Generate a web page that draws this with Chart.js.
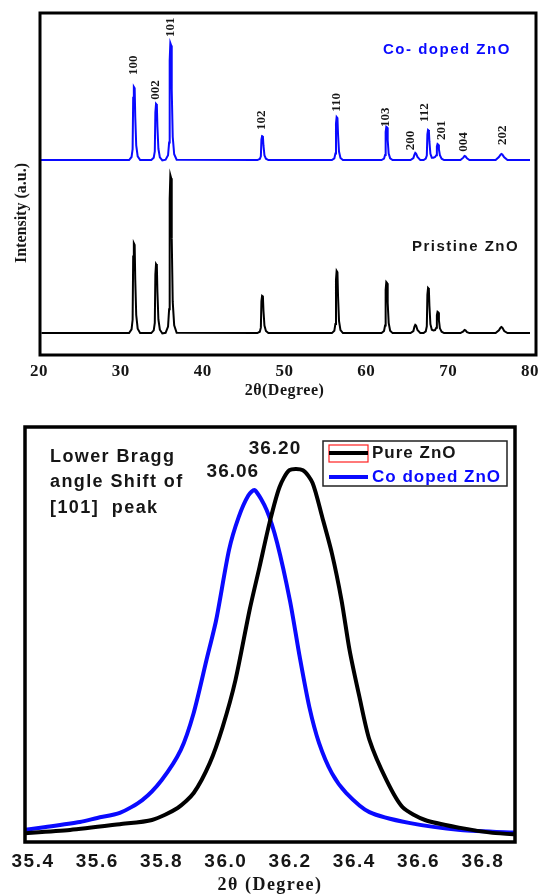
<!DOCTYPE html>
<html>
<head>
<meta charset="utf-8">
<script src="https://cdn.jsdelivr.net/npm/chart.js@4.4.0/dist/chart.umd.min.js"></script>
<style>
    html, body { margin: 0; padding: 0; background: #fff; }
    #wrap { position: relative; width: 538px; height: 894px; }
    #topBox { position: absolute; left: 0; top: 0; width: 538px; height: 400px; }
    #bottomBox { position: absolute; left: 0; top: 400px; width: 538px; height: 494px; }
</style>
</head>
<body>
<div id="wrap">
    <div id="topBox"><canvas id="xrdChart"></canvas></div>
    <div id="bottomBox"><canvas id="peakChart"></canvas></div>
</div>
<script>
// ---- top panel: full XRD patterns (intensity in arbitrary units, 0-100) ----
const xrdTicks = [20, 30, 40, 50, 60, 70, 80];

const pristineX = [20.3,
    31.01, 31.31, 31.44, 31.51, 31.59, 31.69, 31.76, 31.88, 32.06, 32.36,
    33.72, 34.02, 34.15, 34.22, 34.30, 34.40, 34.47, 34.59, 34.77, 35.07,
    35.47, 35.77, 35.90, 35.97, 36.05, 36.15, 36.22, 36.34, 36.52, 36.82,
    46.68, 46.98, 47.11, 47.18, 47.26, 47.36, 47.43, 47.55, 47.73, 48.03,
    55.79, 56.09, 56.22, 56.29, 56.37, 56.47, 56.54, 56.66, 56.84, 57.14,
    61.86, 62.16, 62.29, 62.36, 62.44, 62.54, 62.61, 62.73, 62.91, 63.21,
    65.4, 65.75, 65.88, 65.98, 66.08, 66.25, 66.6,
    67.0, 67.26, 67.39, 67.46, 67.54, 67.64, 67.71, 67.83, 68.0, 68.2,
    68.4, 68.55, 68.62, 68.70, 68.80, 68.87, 68.99, 69.2, 69.5,
    71.5, 71.85, 72.0, 72.12, 72.3, 72.6,
    75.8, 76.2, 76.4, 76.5, 76.62, 76.85, 77.25, 80];
const pristineY = [6.4,
    6.4, 7.5, 10.3, 28.8, 32.7, 32.2, 22.2, 11.7, 7.7, 6.4,
    6.4, 7.2, 9.4, 23.6, 26.6, 26.2, 18.5, 10.4, 7.4, 6.3,
    6.5, 8.3, 13.4, 45.7, 52.6, 51.7, 34.1, 15.6, 8.7, 6.5,
    6.4, 6.8, 8.0, 15.7, 17.3, 17.1, 12.9, 8.6, 7.0, 6.4,
    6.4, 7.1, 9.1, 21.9, 24.6, 24.2, 17.3, 10.0, 7.3, 6.4,
    6.4, 7.0, 8.6, 19.1, 21.3, 21.0, 15.3, 9.4, 7.1, 6.4,
    6.4, 7.0, 8.3, 8.8, 8.6, 7.3, 6.4,
    6.4, 6.9, 8.4, 17.6, 19.6, 19.3, 14.3, 9.0, 7.4, 7.2,
    7.3, 8.0, 11.7, 12.6, 12.4, 10.1, 7.8, 6.8, 6.4,
    6.4, 6.9, 7.3, 7.2, 6.7, 6.4,
    6.4, 7.2, 8.0, 8.2, 8.0, 7.0, 6.4, 6.4];

const codopedX = [20.0,
    31.01, 31.31, 31.44, 31.51, 31.59, 31.69, 31.76, 31.88, 32.06, 32.36,
    33.72, 34.02, 34.15, 34.22, 34.30, 34.40, 34.47, 34.59, 34.77, 35.07,
    35.47, 35.77, 35.90, 35.97, 36.05, 36.15, 36.22, 36.34, 36.52, 36.82,
    46.68, 46.98, 47.11, 47.18, 47.26, 47.36, 47.43, 47.55, 47.73, 48.03,
    55.79, 56.09, 56.22, 56.29, 56.37, 56.47, 56.54, 56.66, 56.84, 57.14,
    61.86, 62.16, 62.29, 62.36, 62.44, 62.54, 62.61, 62.73, 62.91, 63.21,
    65.4, 65.75, 65.88, 65.98, 66.08, 66.25, 66.6,
    67.0, 67.26, 67.39, 67.46, 67.54, 67.64, 67.71, 67.83, 68.0, 68.2,
    68.4, 68.55, 68.62, 68.70, 68.80, 68.87, 68.99, 69.2, 69.5,
    71.5, 71.85, 72.0, 72.12, 72.3, 72.6,
    75.8, 76.2, 76.4, 76.5, 76.62, 76.85, 77.25, 80];
const codopedY = [57,
    57, 57.9, 60.2, 75.2, 78.4, 78.0, 69.8, 61.3, 58.1, 57,
    57, 57.7, 59.5, 70.9, 73.4, 73.1, 66.8, 60.3, 57.8, 56.9,
    57.1, 58.4, 62.1, 86.1, 91.2, 90.5, 77.5, 63.8, 58.7, 57.1,
    57, 57.3, 58.1, 63.0, 64.0, 63.9, 61.2, 58.4, 57.4, 57,
    57, 57.5, 58.9, 67.7, 69.6, 69.3, 64.6, 59.5, 57.6, 57,
    57, 57.4, 58.5, 65.2, 66.7, 66.5, 62.8, 58.9, 57.5, 57,
    57, 57.6, 58.6, 59.1, 58.9, 57.9, 57,
    57, 57.4, 58.3, 64.5, 65.8, 65.6, 62.3, 58.8, 57.7, 57.7,
    57.9, 58.4, 61.0, 61.7, 61.5, 60.1, 58.4, 57.4, 57,
    57, 57.7, 58.2, 58.1, 57.5, 57,
    57, 57.9, 58.6, 58.8, 58.6, 57.8, 57, 57];

// Miller indices written above the Co-doped peaks (x = 2θ, y = bottom of text)
const hklNames = ['100', '002', '101', '102', '110', '103', '200', '112', '201', '004', '202'];
const hklX = [31.6, 34.3, 36.05, 47.25, 56.35, 62.35, 65.4, 67.15, 69.2, 71.85, 76.7];
const hklY = [81.9, 74.6, 93.0, 65.8, 71.1, 66.7, 59.9, 68.1, 62.9, 59.4, 61.4];

// ---- bottom panel: zoom on the (101) reflection ----
const peakTicks = [35.4, 35.6, 35.8, 36.0, 36.2, 36.4, 36.6, 36.8];

const pureX = [35.35, 35.515, 35.67, 35.77, 35.85, 35.90, 35.95, 35.99, 36.03, 36.074,
    36.105, 36.136, 36.167, 36.198, 36.24, 36.27, 36.30, 36.33, 36.36, 36.385,
    36.416, 36.447, 36.5, 36.55, 36.62, 36.73, 36.83, 36.92];
const pureY = [2.0, 2.9, 4.3, 5.3, 8.2, 11.8, 19, 27.7, 39, 55.9,
    66.3, 76.9, 85.5, 89.6, 89.6, 86.5, 78.3, 69.6, 58.3, 46.3,
    34.9, 24.6, 14.9, 8.4, 5.3, 3.4, 2.2, 1.8];

const coX = [35.35, 35.44, 35.546, 35.6, 35.67, 35.74, 35.80, 35.86, 35.90, 35.94, 35.97,
    36.01, 36.04, 36.07, 36.09, 36.127, 36.16, 36.2, 36.23, 36.26, 36.29, 36.33,
    36.375, 36.447, 36.57, 36.73, 36.92];
const coY = [2.7, 3.6, 4.8, 5.8, 7, 10.1, 14.9, 22.2, 31.1, 43.9, 53.5,
    70.4, 78.3, 83.5, 84.8, 80, 72, 58, 44.6, 32.5, 23.9, 16.6,
    11.8, 7.2, 4.6, 2.9, 2.2];

const peakLabels = ['36.20', '36.06'];
const peakLabelX = [36.153, 36.022];
const peakLabelY = [94.7, 89.2];

const noteLines = ['Lower Bragg', 'angle Shift of', '[101]  peak'];

const BLUE = '#0a0aff';
const INK = '#161616';

function toPoints(xs, ys) {
    return xs.map((x, i) => ({ x: x, y: ys[i] }));
}

// thick rectangle around the plotting area + wider glyph spacing for axis text
const framePlugin = {
    id: 'frame',
    beforeDraw(chart, args, opts) {
        chart.ctx.letterSpacing = opts.spacing || '0px';
    },
    afterDraw(chart, args, opts) {
        const a = chart.chartArea;
        const ctx = chart.ctx;
        ctx.save();
        ctx.strokeStyle = '#000';
        ctx.lineWidth = opts.width || 3;
        ctx.strokeRect(a.left + (opts.dl || 0), a.top, a.right - a.left + (opts.dw || 0), a.bottom - a.top);
        ctx.restore();
        ctx.letterSpacing = '0px';
    }
};

// keep the first/last tick labels from shrinking the plot area
function noLabelMargin(s) {
    s.paddingLeft = 0;
    s.paddingRight = 0;
}

const xrdTextPlugin = {
    id: 'xrdText',
    afterDatasetsDraw(chart) {
        const ctx = chart.ctx;
        const xs = chart.scales.x;
        const ys = chart.scales.y;
        ctx.save();

        // hkl labels, rotated to read bottom-to-top
        ctx.fillStyle = INK;
        ctx.letterSpacing = '0px';
        ctx.font = 'bold 13px "Liberation Serif"';
        ctx.textAlign = 'left';
        ctx.textBaseline = 'middle';
        hklNames.forEach((name, i) => {
            ctx.save();
            ctx.translate(xs.getPixelForValue(hklX[i]), ys.getPixelForValue(hklY[i]));
            ctx.rotate(-Math.PI / 2);
            ctx.fillText(name, 0, 0);
            ctx.restore();
        });

        // sample names
        ctx.font = 'bold 15px "Liberation Sans"';
        ctx.letterSpacing = '1.5px';
        ctx.fillStyle = BLUE;
        ctx.fillText('Co- doped ZnO', 383, 50);
        ctx.fillStyle = INK;
        ctx.fillText('Pristine ZnO', 412, 247);
        ctx.letterSpacing = '0px';

        // y axis title
        ctx.save();
        ctx.translate(22, 213);
        ctx.rotate(-Math.PI / 2);
        ctx.textAlign = 'center';
        ctx.font = 'bold 16px "Liberation Serif"';
        ctx.fillText('Intensity (a.u.)', 0, 0);
        ctx.restore();

        ctx.restore();
    }
};

const peakTextPlugin = {
    id: 'peakText',
    afterDatasetsDraw(chart) {
        const ctx = chart.ctx;
        const xs = chart.scales.x;
        const ys = chart.scales.y;
        const a = chart.chartArea;
        ctx.save();
        ctx.textBaseline = 'middle';

        // peak position labels
        ctx.fillStyle = INK;
        ctx.font = 'bold 19px "Liberation Sans"';
        ctx.textAlign = 'center';
        ctx.letterSpacing = '1px';
        peakLabels.forEach((t, i) => {
            ctx.fillText(t, xs.getPixelForValue(peakLabelX[i]), ys.getPixelForValue(peakLabelY[i]));
        });

        // note on the left
        ctx.textAlign = 'left';
        ctx.font = 'bold 18px "Liberation Sans"';
        ctx.letterSpacing = '1.4px';
        noteLines.forEach((t, i) => {
            ctx.fillText(t, a.left + 25, a.top + 30 + i * 25.5);
        });

        // legend
        const lx = a.left + 298, ly = a.top + 14, lw = 184, lh = 45;
        ctx.strokeStyle = '#222';
        ctx.lineWidth = 1.5;
        ctx.strokeRect(lx, ly, lw, lh);
        ctx.font = 'bold 17px "Liberation Sans"';
        chart.data.datasets.forEach((ds, i) => {
            const rowY = ly + 12 + i * 24;
            const sx = lx + 6;
            if (i === 0) {
                ctx.strokeStyle = '#ff2020';
                ctx.lineWidth = 1.2;
                ctx.strokeRect(sx, rowY - 8, 39, 17);
            }
            ctx.strokeStyle = ds.borderColor;
            ctx.lineWidth = 4;
            ctx.beginPath();
            ctx.moveTo(sx, rowY);
            ctx.lineTo(sx + 39, rowY);
            ctx.stroke();
            ctx.fillStyle = i === 0 ? INK : BLUE;
            ctx.letterSpacing = '1px';
            ctx.fillText(ds.label, sx + 43, rowY);
        });

        ctx.restore();
    }
};

function buildXrdChart() {
    const ctx = document.getElementById('xrdChart').getContext('2d');
    new Chart(ctx, {
        type: 'line',
        data: {
            datasets: [
                {
                    label: 'Co- doped ZnO',
                    data: toPoints(codopedX, codopedY),
                    borderColor: BLUE,
                    borderWidth: 2,
                    pointRadius: 0,
                    tension: 0
                },
                {
                    label: 'Pristine ZnO',
                    data: toPoints(pristineX, pristineY),
                    borderColor: '#000',
                    borderWidth: 2,
                    pointRadius: 0,
                    tension: 0
                }
            ]
        },
        options: {
            responsive: true,
            maintainAspectRatio: false,
            animation: false,
            devicePixelRatio: 1,
            layout: { padding: { left: 39, right: 8, top: 13, bottom: 0 } },
            plugins: {
                legend: { display: false },
                tooltip: { enabled: false },
                frame: { width: 3, dl: 1, dw: 5, spacing: '0.5px' }
            },
            scales: {
                x: {
                    type: 'linear',
                    min: 20,
                    max: 80,
                    afterBuildTicks: s => { s.ticks = xrdTicks.map(v => ({ value: v })); },
                    afterFit: s => { s.height = 45; noLabelMargin(s); },
                    grid: { display: false, drawTicks: false },
                    border: { display: false },
                    ticks: {
                        color: INK,
                        padding: 6,
                        maxRotation: 0,
                        font: { family: '"Liberation Serif"', size: 17, weight: 'bold' }
                    },
                    title: {
                        display: true,
                        text: '2θ(Degree)',
                        color: INK,
                        padding: { top: 0, bottom: 0 },
                        font: { family: '"Liberation Serif"', size: 16, weight: 'bold' }
                    }
                },
                y: { display: false, min: 0, max: 100 }
            }
        },
        plugins: [framePlugin, xrdTextPlugin]
    });
}

function buildPeakChart() {
    const ctx = document.getElementById('peakChart').getContext('2d');
    new Chart(ctx, {
        type: 'line',
        data: {
            datasets: [
                {
                    label: 'Pure ZnO',
                    data: toPoints(pureX, pureY),
                    borderColor: '#000',
                    borderWidth: 4,
                    pointRadius: 0,
                    tension: 0.25
                },
                {
                    label: 'Co doped ZnO',
                    data: toPoints(coX, coY),
                    borderColor: BLUE,
                    borderWidth: 4,
                    pointRadius: 0,
                    tension: 0.25
                }
            ]
        },
        options: {
            responsive: true,
            maintainAspectRatio: false,
            animation: false,
            devicePixelRatio: 1,
            layout: { padding: { left: 25, right: 23, top: 27, bottom: 0 } },
            plugins: {
                legend: { display: false },
                tooltip: { enabled: false },
                frame: { width: 3.5, spacing: '1.5px' }
            },
            scales: {
                x: {
                    type: 'linear',
                    min: 35.375,
                    max: 36.9,
                    afterBuildTicks: s => { s.ticks = peakTicks.map(v => ({ value: v })); },
                    afterFit: s => { s.height = 52; noLabelMargin(s); },
                    grid: { display: false, drawTicks: false },
                    border: { display: false },
                    ticks: {
                        color: INK,
                        padding: 8,
                        maxRotation: 0,
                        callback: v => v.toFixed(1),
                        font: { family: '"Liberation Sans"', size: 19, weight: 'bold' }
                    },
                    title: {
                        display: true,
                        text: '2θ (Degree)',
                        color: INK,
                        padding: { top: 0, bottom: -2 },
                        font: { family: '"Liberation Serif"', size: 18, weight: 'bold' }
                    }
                },
                y: { display: false, min: 0, max: 100 }
            }
        },
        plugins: [framePlugin, peakTextPlugin]
    });
}

buildXrdChart();
buildPeakChart();
</script>
</body>
</html>
